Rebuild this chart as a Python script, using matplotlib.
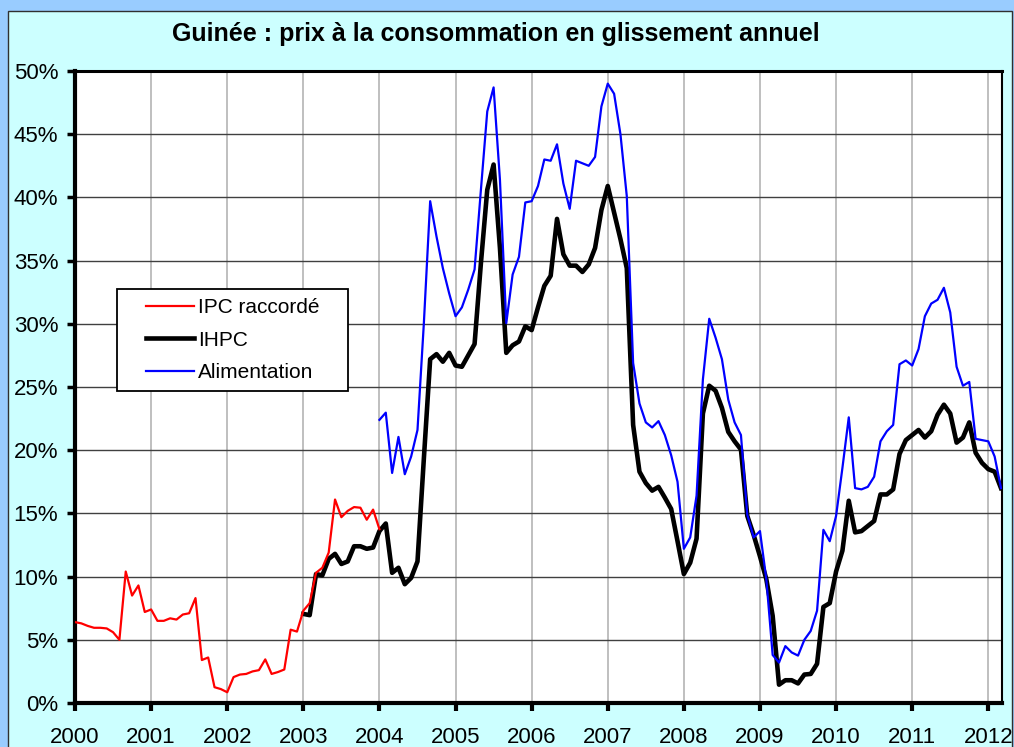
import numpy as np
import matplotlib
matplotlib.use("Agg")
import matplotlib.pyplot as plt
from matplotlib.patches import Rectangle
from matplotlib.ticker import FuncFormatter, MultipleLocator

plt.rcParams['font.family'] = ['Liberation Sans', 'DejaVu Sans']

# ---------- data (monthly, % y/y) ----------
ipc_start = 2000.0   # Jan 2000
ipc_raccorde = [
    6.4, 6.3, 6.1, 5.95, 5.95, 5.9, 5.6, 5.0, 10.4, 8.5, 9.3, 7.2,
    7.4, 6.5, 6.5, 6.7, 6.6, 7.0, 7.1, 8.3, 3.4, 3.6, 1.25, 1.1,
    0.85, 2.05, 2.25, 2.3, 2.5, 2.6, 3.45, 2.3, 2.45, 2.65, 5.8, 5.65,
    7.3, 7.9, 10.3, 10.7, 11.9, 16.1, 14.7, 15.2, 15.5, 15.45, 14.5, 15.3,
    13.75,
]

ihpc_start = 2003.0  # Jan 2003
ihpc = [
    7.05, 6.95, 10.2, 10.1, 11.4, 11.8, 11.0, 11.2, 12.4, 12.4, 12.2, 12.3,
    13.6, 14.2, 10.3, 10.7, 9.4, 9.9, 11.2, 19.3, 27.2, 27.6, 27.0, 27.7,
    26.7, 26.6, 27.5, 28.4, 34.8, 40.6, 42.6, 36.0, 27.7, 28.3, 28.6, 29.8,
    29.5, 31.3, 33.0, 33.8, 38.3, 35.5, 34.6, 34.6, 34.1, 34.7, 36.0, 39.0,
    40.9, 38.8, 36.7, 34.4, 22.0, 18.3, 17.4, 16.8, 17.1, 16.25, 15.35, 12.8,
    10.2, 11.1, 13.0, 22.9, 25.1, 24.7, 23.35, 21.45, 20.7, 20.05, 14.8, 13.3,
    11.6, 9.8, 6.9, 1.45, 1.8, 1.8, 1.55, 2.25, 2.3, 3.1, 7.6, 7.9,
    10.4, 12.05, 16.0, 13.5, 13.6, 14.0, 14.4, 16.5, 16.5, 16.9, 19.7, 20.8,
    21.2, 21.6, 21.0, 21.5, 22.8, 23.6, 22.9, 20.6, 21.0, 22.2, 19.8, 19.0,
    18.5, 18.3, 17.0,
]

alim_start = 2004.0  # Jan 2004
alimentation = [
    22.4, 22.97, 18.2, 21.05, 18.1, 19.5, 21.6, 30.0, 39.7, 36.9, 34.4, 32.4,
    30.6, 31.3, 32.7, 34.3, 40.6, 46.8, 48.7, 41.4, 30.05, 33.9, 35.3, 39.6,
    39.7, 40.9, 43.0, 42.9, 44.2, 41.1, 39.1, 42.9, 42.7, 42.5, 43.2, 47.2,
    49.0, 48.2, 45.0, 40.1, 26.9, 23.7, 22.2, 21.8, 22.3, 21.2, 19.6, 17.5,
    12.2, 13.1, 16.4, 25.6, 30.4, 28.9, 27.2, 24.0, 22.2, 21.2, 14.9, 13.1,
    13.6, 9.8, 3.8, 3.2, 4.5, 4.0, 3.75, 5.0, 5.7, 7.3, 13.7, 12.8,
    14.8, 18.6, 22.6, 17.0, 16.9, 17.1, 17.9, 20.7, 21.5, 22.0, 26.8, 27.1,
    26.7, 28.0, 30.6, 31.6, 31.9, 32.85, 30.9, 26.6, 25.1, 25.4, 20.9, 20.8,
    20.7, 19.5, 17.0,
]

year_ticks = list(range(2000, 2013))
title = "Guinée : prix à la consommation en glissement annuel"


def months(start, values):
    return start + np.arange(len(values)) / 12.0


W, H = 1014, 747
fig = plt.figure(figsize=(W / 100, H / 100), dpi=100, facecolor='#99CCFF')

# chart area (cyan panel with thin border), behind the axes
fig.patches.append(Rectangle((8 / W, -0.05), (1012 - 8) / W, 1.05 - 11 / H,
                             transform=fig.transFigure, facecolor='#CCFFFF',
                             edgecolor='#303030', linewidth=1.0, zorder=-1))

ax = fig.add_axes([75 / W, 1 - 703 / H, (1002 - 75) / W, (703 - 71) / H])
ax.set_facecolor('white')

l1, = ax.plot(months(ipc_start, ipc_raccorde), ipc_raccorde, color='#FF0000',
              lw=1.6, zorder=4, label='IPC raccordé')
l2, = ax.plot(months(ihpc_start, ihpc), ihpc, color='black', lw=3.3,
              zorder=3, label='IHPC')
l3, = ax.plot(months(alim_start, alimentation), alimentation, color='#0000FF',
              lw=1.6, zorder=4, label='Alimentation')

ax.set_xlim(2000, 2012.18)
ax.set_ylim(0, 50)
ax.set_xticks(year_ticks)
ax.set_xticklabels([str(y) for y in year_ticks])
ax.yaxis.set_major_locator(MultipleLocator(5))
ax.yaxis.set_major_formatter(FuncFormatter(lambda v, p: f"{v:.0f}%"))

ax.xaxis.grid(True, color='#B4B4B4', lw=1.2)
ax.yaxis.grid(True, color='#404040', lw=1.0)
ax.set_axisbelow(True)

for s in ['left', 'bottom']:
    ax.spines[s].set_linewidth(3)
ax.spines['top'].set_linewidth(2.2)
ax.spines['right'].set_linewidth(1.5)

ax.tick_params(axis='x', direction='out', length=6, width=3, labelsize=16,
               pad=11)
ax.tick_params(axis='y', direction='out', length=6, width=2.5, labelsize=16,
               pad=6)

fig.text(495.5 / W, 1 - 41.5 / H, title, ha='center', va='baseline',
         fontsize=18, fontweight='bold')

# legend box
fig.patches.append(Rectangle((117 / W, 1 - 391 / H), (348 - 117) / W,
                             (391 - 289) / H, transform=fig.transFigure,
                             facecolor='white', edgecolor='black',
                             linewidth=1.3, zorder=5))
leg = fig.legend(handles=[l1, l2, l3], loc='center',
                 bbox_to_anchor=((117 + 348) / 2 / W, 1 - 340 / H),
                 frameon=False, fontsize=15, handlelength=2.3,
                 handletextpad=0.2, labelspacing=0.65)
leg.set_zorder(6)

fig.savefig('out.png', dpi=100, facecolor=fig.get_facecolor())
